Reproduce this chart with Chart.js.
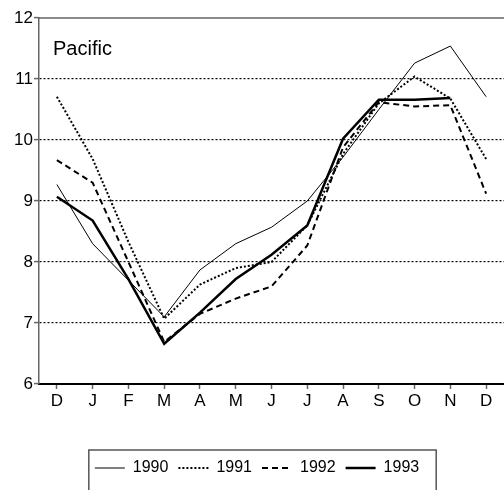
<!DOCTYPE html>
<html>
<head>
<meta charset="utf-8">
<script src="https://cdn.jsdelivr.net/npm/chart.js@4/dist/chart.umd.min.js"></script>
<style>
  html, body { margin: 0; padding: 0; background: #fff; }
  #wrap { width: 504px; height: 490px; }
</style>
</head>
<body>
<div id="wrap"><canvas id="lineChart"></canvas></div>
<script>
var months = ['D', 'J', 'F', 'M', 'A', 'M', 'J', 'J', 'A', 'S', 'O', 'N', 'D'];
var years = ['1990', '1991', '1992', '1993'];
var y1990 = [9.27, 8.30, 7.70, 7.10, 7.87, 8.30, 8.57, 9.00, 9.72, 10.50, 11.26, 11.54, 10.71];
var y1991 = [10.71, 9.69, 8.33, 7.07, 7.63, 7.90, 8.00, 8.60, 9.77, 10.60, 11.04, 10.68, 9.69];
var y1992 = [9.67, 9.30, 8.00, 6.69, 7.15, 7.40, 7.60, 8.27, 9.88, 10.62, 10.55, 10.57, 9.12];
var y1993 = [9.07, 8.68, 7.72, 6.66, 7.17, 7.72, 8.12, 8.60, 10.02, 10.66, 10.66, 10.69, null];
var yTicks = [6, 7, 8, 9, 10, 11, 12];

var FONT = '"Liberation Sans Narrow", "Arial Narrow", "Liberation Sans", Arial, sans-serif';

// extra bits: top frame line, region label, box around the legend
var framePlugin = {
  id: 'frame',
  afterDraw: function(chart) {
    var ctx = chart.ctx, area = chart.chartArea;
    ctx.save();
    ctx.strokeStyle = '#666';
    ctx.lineWidth = 1.5;
    ctx.beginPath();
    ctx.moveTo(area.left, area.top);
    ctx.lineTo(area.right, area.top);
    ctx.stroke();

    ctx.fillStyle = '#000';
    ctx.font = '20px ' + FONT;
    ctx.textBaseline = 'alphabetic';
    ctx.fillText('Pacific', area.left + 14, area.top + 37);

    var boxes = chart.legend.legendHitBoxes;
    if (boxes && boxes.length) {
      var first = boxes[0], last = boxes[boxes.length - 1];
      var l = first.left - 6, r = last.left + last.width + 17;
      var t = first.top + first.height / 2 - 18;
      ctx.strokeStyle = '#555';
      ctx.lineWidth = 1.5;
      ctx.beginPath();
      ctx.moveTo(l, chart.height + 5);
      ctx.lineTo(l, t);
      ctx.lineTo(r, t);
      ctx.lineTo(r, chart.height + 5);
      ctx.stroke();
    }
    ctx.restore();
  }
};

var canvas = document.getElementById('lineChart');
var lineChart = new Chart(canvas.getContext('2d'), {
  type: 'line',
  data: {
    labels: months,
    datasets: [{
      label: years[0],
      data: y1990,
      borderColor: '#000',
      borderWidth: 1,
      pointRadius: 0,
      tension: 0
    }, {
      label: years[1],
      data: y1991,
      borderColor: '#000',
      borderWidth: 2,
      borderDash: [2, 2],
      pointRadius: 0,
      tension: 0
    }, {
      label: years[2],
      data: y1992,
      borderColor: '#000',
      borderWidth: 2,
      borderDash: [6, 4],
      pointRadius: 0,
      tension: 0
    }, {
      label: years[3],
      data: y1993,
      borderColor: '#000',
      borderWidth: 2.5,
      pointRadius: 0,
      tension: 0
    }]
  },
  options: {
    responsive: true,
    maintainAspectRatio: false,
    animation: false,
    layout: { padding: { left: 10, right: 0, top: 18, bottom: 4 } },
    plugins: {
      tooltip: { enabled: false },
      legend: {
        position: 'bottom',
        labels: {
          usePointStyle: true,
          pointStyle: 'line',
          pointStyleWidth: 30,
          color: '#000',
          padding: 10,
          font: { family: FONT, size: 16 },
          generateLabels: function(chart) {
            var items = Chart.defaults.plugins.legend.labels.generateLabels(chart);
            items.forEach(function(item) {
              var ds = chart.data.datasets[item.datasetIndex];
              item.lineDash = ds.borderDash || [];
              item.lineWidth = ds.borderWidth;
              item.strokeStyle = ds.borderColor;
            });
            return items;
          }
        }
      }
    },
    scales: {
      x: {
        offset: true,
        afterFit: function(scale) { scale.height = 66; },
        grid: { drawOnChartArea: false, tickLength: 5, tickColor: '#666', tickWidth: 1.5 },
        border: { color: '#000', width: 2 },
        ticks: { color: '#000', padding: 2, font: { family: FONT, size: 17 }, maxRotation: 0, autoSkip: false }
      },
      y: {
        min: yTicks[0],
        max: yTicks[yTicks.length - 1],
        afterFit: function(scale) { scale.width = 29; },
        afterBuildTicks: function(scale) {
          scale.ticks = yTicks.map(function(v) { return { value: v }; });
        },
        grid: {
          color: function(c) {
            var v = c.tick && c.tick.value;
            return (v === yTicks[0] || v === yTicks[yTicks.length - 1]) ? 'rgba(0,0,0,0)' : '#000';
          },
          lineWidth: 1.2,
          tickLength: 5,
          tickColor: '#666',
          tickWidth: 1.5,
          tickBorderDash: []
        },
        border: { color: '#666', width: 1.5, dash: [2, 2] },
        ticks: { color: '#000', padding: 1, font: { family: FONT, size: 17 } }
      }
    }
  },
  plugins: [framePlugin]
});
</script>
</body>
</html>
